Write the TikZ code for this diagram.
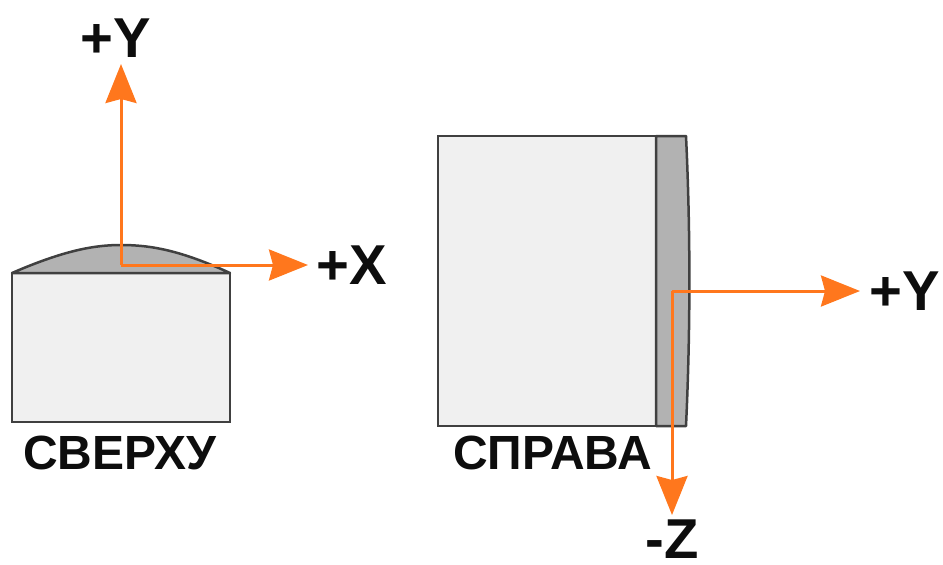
\documentclass[tikz,border=0pt]{standalone}
\usepackage{fontspec}
\setmainfont{Liberation Sans}
\usetikzlibrary{arrows.meta}
\tikzset{
    body/.style = {draw = black!75, line width = 0.05cm, fill = black!6},
    lens/.style = {draw = black!75, line width = 0.05cm, fill = black!30, line join = round},
    axis/.style = {draw = axiscolor, line width = 0.06cm, -{Stealth[length = 0.78cm, width = 0.62cm, inset = 0.08cm]}, shorten >= -0.02cm},
    axislabel/.style = {font = \fontsize{32}{32}\selectfont\bfseries, inner sep = 0pt, text = black!95},
    viewlabel/.style = {font = \fontsize{27.3}{27.3}\selectfont\bfseries, inner sep = 0pt, text = black!95}
}
\definecolor{axiscolor}{RGB}{255,119,29}
\begin{document}
\begin{tikzpicture}
    \useasboundingbox (0, 0) rectangle (18.86, -11.28);
    % view from above
    \coordinate (Top SW) at (0.24, -8.44);
    \coordinate (Top NE) at (4.6, -5.46);
    \coordinate (Top NW) at (0.24, -5.46);
    \draw[body] (Top SW) rectangle (Top NE);
    \draw[lens] (Top NW) .. controls (1.3, -5.0) and (1.9, -4.9) .. (2.42, -4.9) .. controls (3.0, -4.9) and (3.6, -5.0) .. (Top NE) -- cycle;
    % view from the right
    \coordinate (Side SW) at (8.76, -8.52);
    \coordinate (Side NE) at (13.12, -2.72);
    \coordinate (Bar SW) at (13.12, -8.52);
    \coordinate (Bar NE) at (13.72, -2.72);
    \draw[body] (Side SW) rectangle (Side NE);
    \draw[lens] (Side NE) -- (Bar NE) .. controls (13.81, -4.6) and (13.81, -6.6) .. (13.72, -8.52) -- (Bar SW) -- cycle;
    % labels
    \node[axislabel] (Top Y) at (2.31, -0.76) {+Y};
    \node[axislabel] (Top X) at (7.04, -5.3) {+X};
    \node[axislabel] (Side Y) at (18.1, -5.82) {+Y};
    \node[axislabel] (Side Z) at (13.44, -10.78) {-Z};
    \node[viewlabel] (Top Name) at (2.4, -9.06) {СВЕРХУ};
    \node[viewlabel] (Side Name) at (11.05, -9.06) {СПРАВА};
    % axes
    \coordinate (Top Origin) at (2.42, -5.3);
    \coordinate (Side Origin) at (13.44, -5.82);
    \coordinate (Top Y Tip) at (2.42, -1.3);
    \coordinate (Top X Tip) at (6.14, -5.3);
    \coordinate (Side Y Tip) at (17.18, -5.82);
    \coordinate (Side Z Tip) at (13.44, -10.28);
    \draw[axis] (Top Origin) -- (Top Y Tip);
    \draw[axis] (Top Origin) -- (Top X Tip);
    \draw[axis] (Side Origin) -- (Side Y Tip);
    \draw[axis] (Side Origin) -- (Side Z Tip);
\end{tikzpicture}
\end{document}
